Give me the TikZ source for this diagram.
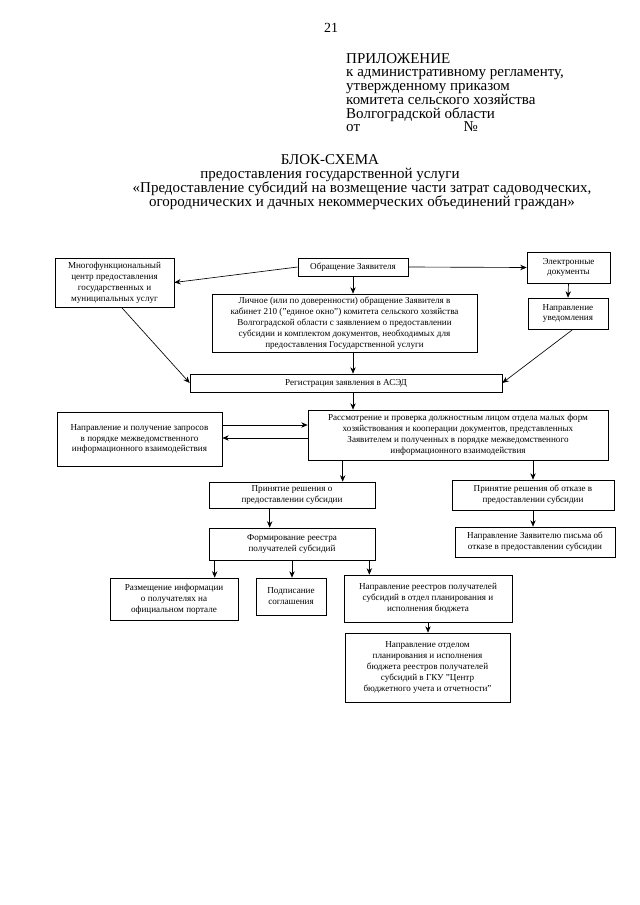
\documentclass[tikz,border=0pt]{standalone}
\usepackage{fontspec}
\setmainfont{Liberation Serif}
\usetikzlibrary{calc,arrows.meta}

\begin{document}
\begin{tikzpicture}[
        x=0.328mm, y=-0.328mm,
        blk/.style 2 args={draw,line width=0.6pt,align=center,inner sep=1pt,
            minimum width=#1*0.328mm,minimum height=#2*0.328mm,
            font=\fontsize{8.5}{10.2}\selectfont},
        arr/.style={line width=0.6pt,->,>={Stealth[length=6pt,width=5pt]}}
    ]
        \useasboundingbox (0,0) rectangle (640,905);

        % Header
        \node (pg) at (331,28) {\fontsize{13}{13}\selectfont 21};
        \node[anchor=north west,align=left,inner sep=0pt,font=\fontsize{14}{12.8}\selectfont]
            (pril) at (346,53) {ПРИЛОЖЕНИЕ\\к административному регламенту,\\утвержденному приказом\\комитета сельского хозяйства\\Волгоградской области\\от\hskip 34mm №};
        \node[align=center,inner sep=0pt,font=\fontsize{14}{13.4}\selectfont]
            (title) at (330,168) {БЛОК-СХЕМА\\предоставления государственной услуги};
        \node[align=center,inner sep=0pt,font=\fontsize{14}{13.4}\selectfont]
            (usl) at (362,196) {«Предоставление субсидий на возмещение части затрат садоводческих,\\огороднических и дачных некоммерческих объединений граждан»};

        % Boxes
        \node[blk={119}{49}] (mfc) at (114.5,282.5) {Многофункциональный\\центр предоставления\\государственных и\\муниципальных услуг};
        \node[blk={110}{18}] (obr) at (353,267) {Обращение Заявителя};
        \node[blk={83}{31}] (edoc) at (568.5,267.5) {Электронные\\документы};
        \node[blk={80}{31}] (uved) at (568,313.5) {Направление\\уведомления};
        \node[blk={265}{58}] (lich) at (344.5,323) {Личное (или по доверенности) обращение Заявителя в\\кабинет 210 ("единое окно") комитета сельского хозяйства\\Волгоградской области с заявлением о предоставлении\\субсидии и комплектом документов, необходимых для\\предоставления Государственной услуги};
        \node[blk={312}{18}] (reg) at (346,383) {Регистрация заявления в АСЭД};
        \node[blk={165}{54}] (zapr) at (139.5,439) {Направление и получение запросов\\в порядке межведомственного\\информационного взаимодействия};
        \node[blk={300}{50}] (rass) at (458,435) {Рассмотрение и проверка должностным лицом отдела малых форм\\хозяйствования и кооперации документов, представленных\\Заявителем и полученных в порядке межведомственного\\информационного взаимодействия};
        \node[blk={166}{26}] (prin) at (292,495) {Принятие решения о\\предоставлении субсидии};
        \node[blk={162}{30}] (otk) at (533,495) {Принятие решения об отказе в\\предоставлении субсидии};
        \node[blk={166}{32}] (form) at (292,544) {Формирование реестра\\получателей субсидий};
        \node[blk={160}{30}] (pis) at (535,542) {Направление Заявителю письма об\\отказе в предоставлении субсидии};
        \node[blk={128}{42}] (razm) at (174,599) {Размещение информации\\о получателях на\\официальном портале};
        \node[blk={70}{37}] (podp) at (291,596.5) {Подписание\\соглашения};
        \node[blk={168}{47}] (napr) at (428,598.5) {Направление реестров получателей\\субсидий в отдел планирования и\\исполнения бюджета};
        \node[blk={165}{69}] (otd) at (427.5,667.5) {Направление отделом\\планирования и исполнения\\бюджета реестров получателей\\субсидий в ГКУ "Центр\\бюджетного учета и отчетности"};

        % Helper points
        \coordinate (zr) at ($(zapr.east)+(0,-14)$);
        \coordinate (rz) at ($(rass.west)+(0,3)$);
        \coordinate (rp) at ($(rass.south west)+(35,0)$);
        \coordinate (pf) at ($(prin.south west)+(61,0)$);
        \coordinate (fr) at ($(form.south west)+(6,0)$);
        \coordinate (fn) at ($(form.south east)+(-6,0)$);

        % Arrows
        \draw[arr] (obr.west) -- (mfc.east);
        \draw[arr] (obr.east) -- (edoc.west);
        \draw[arr] (obr.south) -- (obr.south |- lich.north);
        \draw[arr] (edoc.south) -- (uved.north);
        \draw[arr] (obr.south |- lich.south) -- (obr.south |- reg.north);
        \draw[arr] ($(mfc.south)+(7,0)$) -- (reg.west);
        \draw[arr] ($(uved.south)+(5,0)$) -- (reg.east);
        \draw[arr] (obr.south |- reg.south) -- (obr.south |- rass.north);
        \draw[arr] (zr) -- (zr -| rass.west);
        \draw[arr] (rz) -- (rz -| zapr.east);
        \draw[arr] (rp) -- (rp |- prin.north);
        \draw[arr] (otk.north |- rass.south) -- (otk.north);
        \draw[arr] (pf) -- (pf |- form.north);
        \draw[arr] (otk.south) -- (otk.south |- pis.north);
        \draw[arr] (fr) -- (fr |- razm.north);
        \draw[arr] (form.south) -- (form.south |- podp.north);
        \draw[arr] (fn) -- (fn |- napr.north);
        \draw[arr] (napr.south) -- (napr.south |- otd.north);
    \end{tikzpicture}
\end{document}
